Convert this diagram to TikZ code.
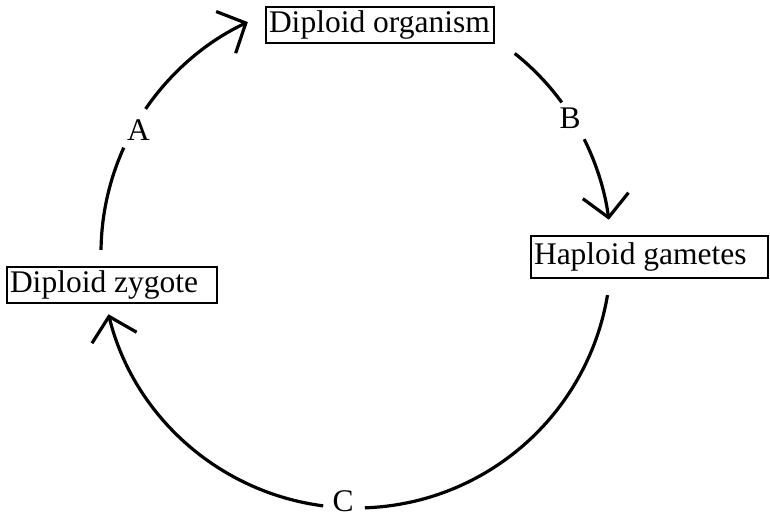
\documentclass[tikz,border=0pt]{standalone}
\usepackage{fontspec}
\setmainfont{Liberation Serif}
\usetikzlibrary{arrows.meta}
\begin{document}
\begin{tikzpicture}[x=1pt,y=1pt,
  box/.style={draw, line width=1.8pt, inner xsep=3pt, inner ysep=0pt,
    font=\fontsize{31.5}{36}\selectfont},
  lab/.style={font=\fontsize{31.5}{36}\selectfont, inner sep=0pt},
  cyc/.style={line width=3.2pt},
  tip/.style={-{Straight Barb[length=22pt,width=46pt]}}]
\useasboundingbox (0,0) rectangle (770,517);
\node[box, minimum height=36pt] (org) at (380,492) {\makebox[222pt][l]{Diploid organism}};
\node[box, minimum height=42pt] (hap) at (649.5,260) {\makebox[231pt][l]{Haploid gametes}};
\node[box, minimum height=36pt] (zyg) at (112,232) {\makebox[204pt][l]{Diploid zygote}};
\coordinate (O) at (356,264);
% A
\draw[cyc] ([shift={(179.3:255pt)}]O) arc[start angle=179.3, end angle=155.6, radius=255pt];
\draw[cyc,tip] ([shift={(145.6:255pt)}]O) arc[start angle=145.6, end angle=115.1, radius=255pt];
\node[lab] (la) at ([shift={(150.5:250pt)}]O) {A};
% B
\draw[cyc] ([shift={(51.5:255pt)}]O) arc[start angle=51.5, end angle=36.2, radius=255pt];
\draw[cyc,tip] ([shift={(26.5:255pt)}]O) arc[start angle=26.5, end angle=7.5, radius=255pt];
\node[lab] (lb) at (570,399) {B};
% C
\draw[cyc] ([shift={(-9.5:255pt)}]O) arc[start angle=-9.5, end angle=-88, radius=255pt];
\draw[cyc,tip] ([shift={(-97.4:255pt)}]O) arc[start angle=-97.4, end angle=-166.1, radius=255pt];
\node[lab] (lc) at (343,16) {C};
\end{tikzpicture}
\end{document}
